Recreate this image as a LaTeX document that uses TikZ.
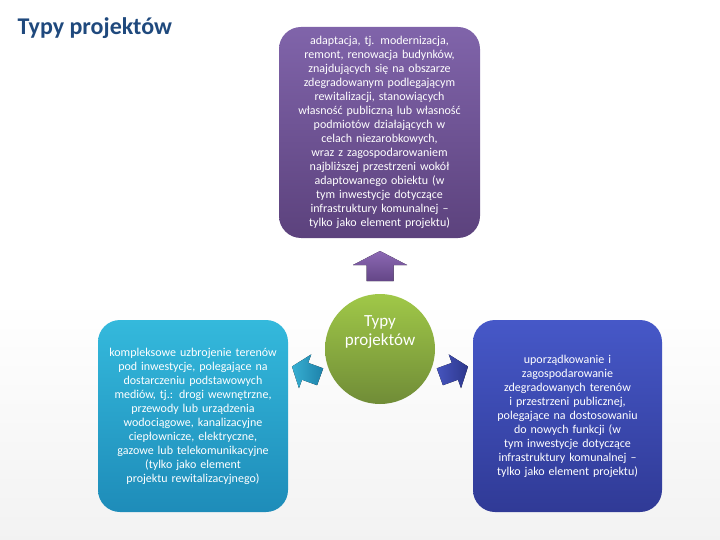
\documentclass[tikz,border=0pt]{standalone}
\usepackage{fontspec}
\setmainfont{Carlito}
\definecolor{titleblue}{RGB}{31,73,125}
\tikzset{
 box/.style={rounded corners=22pt, text=white, align=center, font=\fontsize{12}{14}\selectfont, execute at begin node={\hyphenpenalty=10000\exhyphenpenalty=10000\relax}, inner sep=4pt, text width=168pt},
 blockarrow/.pic={\fill[pic actions] (-14,-9) -- (2,-9) -- (2,-18) -- (16,0) -- (2,18) -- (2,9) -- (-14,9) -- cycle;}
}
\begin{document}
\begin{tikzpicture}[x=1pt,y=-1pt]
\useasboundingbox (0,0) rectangle (720,540);
\shade[top color=white, bottom color=black!5] (0,300) rectangle (720,540);
\node[anchor=north west, text=titleblue, font=\fontsize{24}{28}\selectfont\bfseries] (title) at (14,14) {Typy projektów};
\node[box, top color={rgb,255:red,128;green,100;blue,170}, bottom color={rgb,255:red,92;green,66;blue,125}, minimum width=201pt, minimum height=211pt] (top) at (379.5,132.5) {adaptacja, tj. modernizacja, remont, renowacja budynków, znajdujących się na obszarze zdegradowanym podlegającym rewitalizacji, stanowiących własność publiczną lub własność podmiotów działających w celach niezarobkowych, wraz z zagospodarowaniem najbliższej przestrzeni wokół adaptowanego obiektu (w tym inwestycje dotyczące infrastruktury komunalnej – tylko jako element projektu)};
\node[box, top color={rgb,255:red,52;green,185;blue,220}, bottom color={rgb,255:red,30;green,140;blue,185}, minimum width=190pt, minimum height=192pt] (left) at (193,416) {kompleksowe uzbrojenie terenów pod inwestycje, polegające na dostarczeniu podstawowych mediów, tj.: drogi wewnętrzne, przewody lub urządzenia wodociągowe, kanalizacyjne ciepłownicze, elektryczne, gazowe lub telekomunikacyjne (tylko jako element projektu rewitalizacyjnego)};
\node[box, top color={rgb,255:red,70;green,88;blue,200}, bottom color={rgb,255:red,48;green,58;blue,150}, minimum width=189pt, minimum height=192pt] (right) at (567.5,416) {uporządkowanie i zagospodarowanie zdegradowanych terenów i przestrzeni publicznej, polegające na dostosowaniu do nowych funkcji (w tym inwestycje dotyczące infrastruktury komunalnej – tylko jako element projektu)};
\node[circle, minimum size=110pt, top color={rgb,255:red,160;green,200;blue,72}, bottom color={rgb,255:red,112;green,140;blue,55}, text=white, align=center, font=\fontsize{17}{19}\selectfont] (hub) at (380,349) {Typy\\projektów\\[18pt]};
\pic[rotate=90, top color={rgb,255:red,140;green,105;blue,180}, bottom color={rgb,255:red,100;green,70;blue,135}, yscale=1.5] at (380,267) {blockarrow};
\pic[rotate=160, left color={rgb,255:red,55;green,175;blue,210}, right color={rgb,255:red,30;green,130;blue,170}] at (307,372) {blockarrow};
\pic[rotate=20, left color={rgb,255:red,70;green,85;blue,190}, right color={rgb,255:red,45;green,55;blue,140}] at (453,372) {blockarrow};
\end{tikzpicture}
\end{document}
